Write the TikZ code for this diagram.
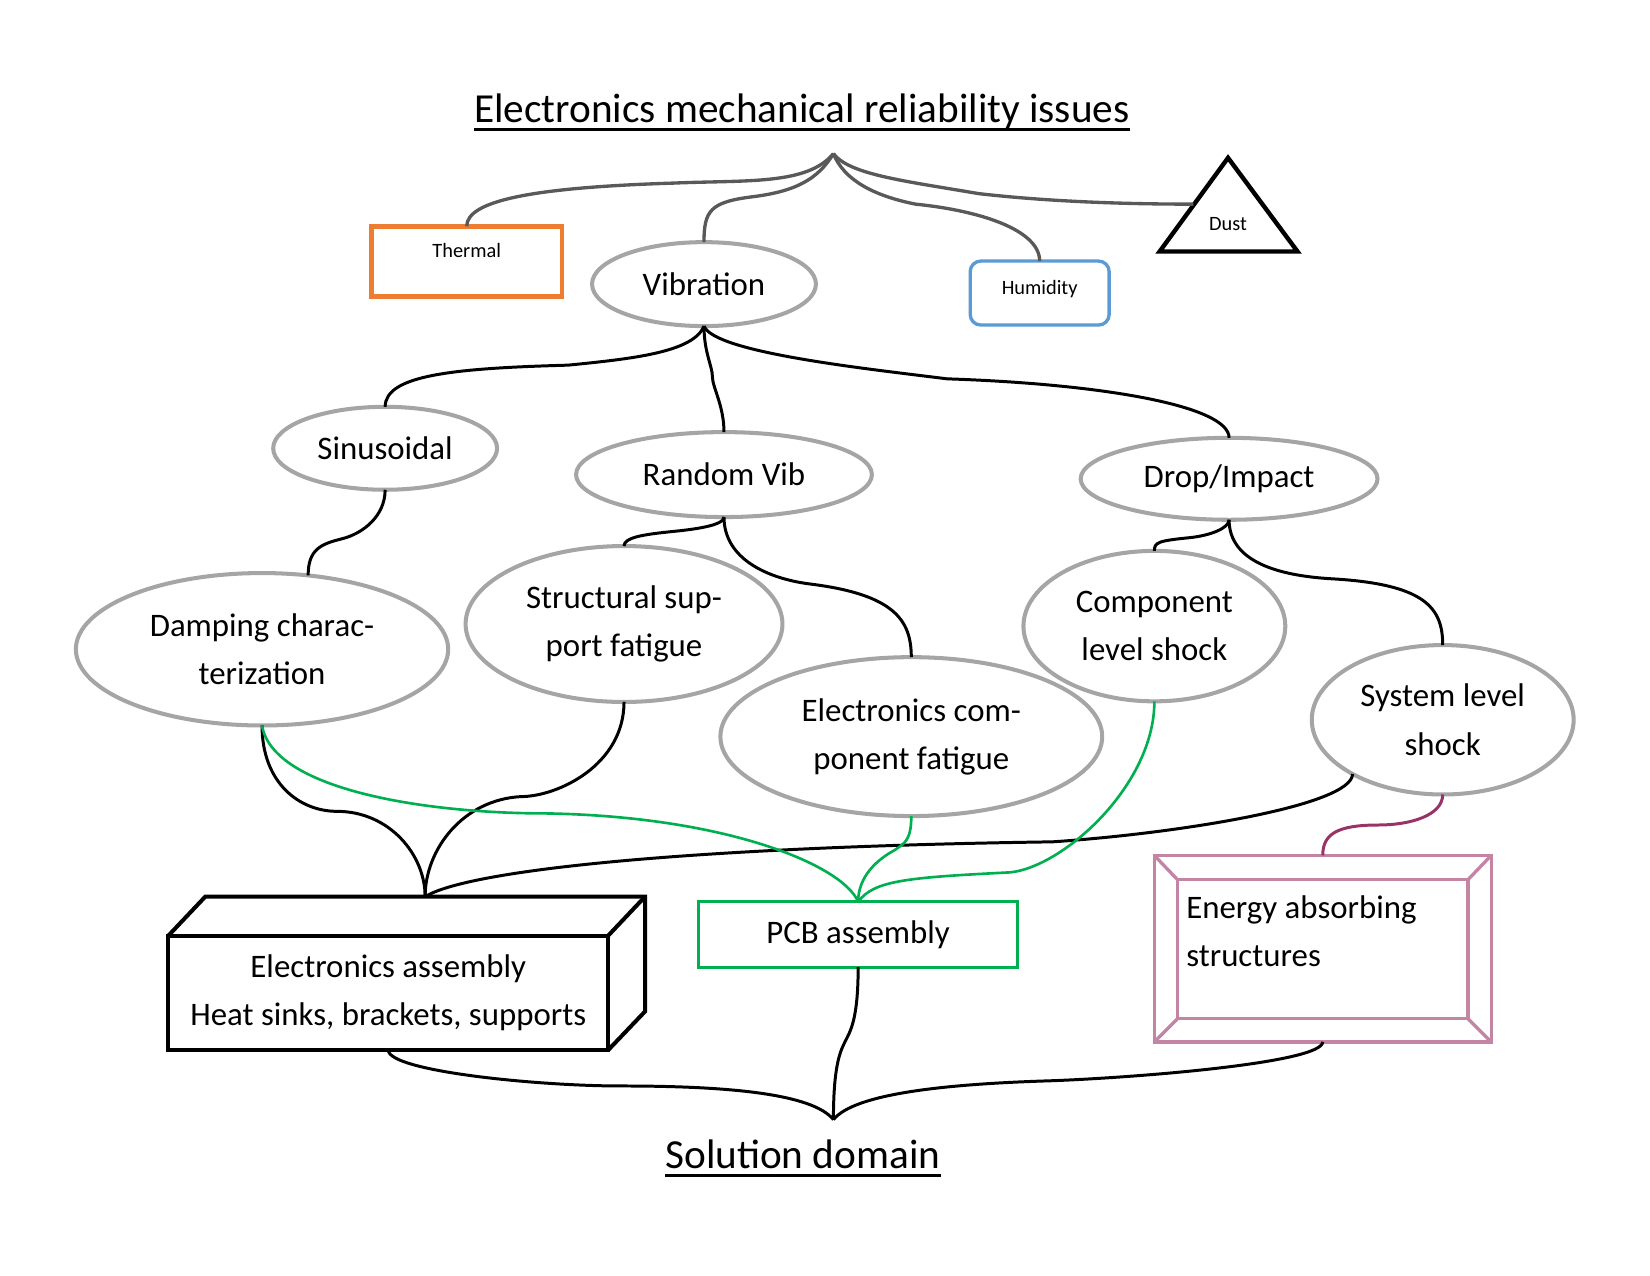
\documentclass[tikz,border=0pt]{standalone}
\usepackage{fontspec}
\setmainfont{Carlito}
\usetikzlibrary{positioning, shapes.geometric}

\definecolor{issue_orange}{HTML}{ED7D31}
\definecolor{issue_blue}{HTML}{5B9BD5}
\definecolor{oval_gray}{HTML}{A5A5A5}
\definecolor{link_gray}{HTML}{595959}
\definecolor{pcb_green}{HTML}{00B050}
\definecolor{shock_maroon}{HTML}{993366}
\definecolor{bevel_pink}{HTML}{C484A4}

\tikzset{
    oval_node/.style={ellipse, draw=oval_gray, line width=2.3pt, inner sep=0pt, outer sep=0pt, text centered, align=center, font=\fontsize{18.7}{27.4}\selectfont},
    thermal_box/.style={rectangle, draw=issue_orange, line width=2.6pt, minimum width=3.81cm, minimum height=1.41cm, outer sep=0pt, text height=8pt, text depth=12.8pt, font=\fontsize{11.6}{14}\selectfont},
    humidity_box/.style={rectangle, rounded corners=6pt, draw=issue_blue, line width=1.9pt, minimum width=2.78cm, minimum height=1.28cm, outer sep=0pt, text height=8pt, text depth=6.8pt, font=\fontsize{11.6}{14}\selectfont},
    small_text/.style={inner sep=0pt, font=\fontsize{11.6}{14}\selectfont},
    dust_tri/.style={draw=black, line width=2.5pt, line join=miter},
    ea_box/.style={rectangle, draw=black, line width=2.3pt, minimum width=8.80cm, minimum height=2.29cm, outer sep=0pt, text centered, align=center, font=\fontsize{18.7}{26.9}\selectfont},
    ea_line/.style={draw=black, line width=2.3pt, line join=miter},
    pcb_box/.style={rectangle, draw=pcb_green, line width=1.9pt, minimum width=6.38cm, minimum height=1.31cm, outer sep=0pt, font=\fontsize{18.7}{26.9}\selectfont},
    bevel_box/.style={rectangle, draw=bevel_pink, line width=1.9pt, minimum width=6.74cm, minimum height=3.73cm, outer sep=0pt},
    bevel_line/.style={draw=bevel_pink, line width=1.9pt},
    body_text/.style={inner sep=0pt, align=left, font=\fontsize{18.7}{27.4}\selectfont},
    title_text/.style={inner sep=0pt, font=\fontsize{23.5}{28}\selectfont},
    grey_link/.style={draw=link_gray, line width=1.9pt},
    link/.style={draw=black, line width=1.7pt},
    green_link/.style={draw=pcb_green, line width=1.5pt},
    maroon_link/.style={draw=shock_maroon, line width=1.7pt},
}

\begin{document}
\begin{tikzpicture}[x=0.02105cm, y=-0.02105cm]
    \useasboundingbox (0,0) rectangle (1568,1212);

    %%%%%%%%%%%%%%%%
    % ISSUES LEVEL %
    %%%%%%%%%%%%%%%%
    \node (title) [title_text, anchor=base] at (762,116)
        {Electronics mechanical reliability issues};
    \draw[line width=1.7pt] ([yshift=-4.4pt]title.base west) -- ([yshift=-4.4pt]title.base east);
    \coordinate (issue_hub) at (792,146);

    \node (thermal) [thermal_box] at (443.5,248.5) {Thermal};
    \node (vib) [oval_node, minimum width=4.48cm, minimum height=1.68cm] at (669,270) {Vibration};
    \node (humidity) [humidity_box] at (988,278.5) {Humidity};
    \coordinate (dust_apex) at (1167,150);
    \coordinate (dust_right) at (1233,239);
    \coordinate (dust_left) at (1102,239);
    \coordinate (dust_side) at (1134,194);
    \draw[dust_tri] (dust_apex) -- (dust_right) -- (dust_left) -- cycle;
    \node (dust) [small_text] at (1167,213) {Dust};

    \draw[grey_link] (issue_hub) .. controls +(-25,30) and +(70,-3) .. (640,174)
        .. controls +(-130,4) and +(0,-25) .. (thermal.north);
    \draw[grey_link] (issue_hub) .. controls +(-15,25) and +(40,-5) .. (715,187)
        .. controls +(-40,5) and +(0,-30) .. (vib.north);
    \draw[grey_link] (issue_hub) .. controls +(10,25) and +(-40,-8) .. (870,194)
        .. controls +(60,6) and +(0,-30) .. (humidity.north);
    \draw[grey_link] (issue_hub) .. controls +(15,20) and +(-70,-12) .. (930,184)
        .. controls +(70,8) and +(-60,0) .. (dust_side);

    %%%%%%%%%%%%%%%%%%%
    % VIBRATION TYPES %
    %%%%%%%%%%%%%%%%%%%
    \node (sin) [oval_node, minimum width=4.48cm, minimum height=1.66cm] at (366,426) {Sinusoidal};
    \node (rand) [oval_node, minimum width=5.92cm, minimum height=1.70cm] at (688,451) {Random Vib};
    \node (drop) [oval_node, minimum width=5.94cm, minimum height=1.64cm] at (1168,455) {Drop/Impact};

    \draw[link] (vib.south) .. controls +(-10,25) and +(60,-6) .. (540,347)
        .. controls +(-110,3) and +(0,-30) .. (sin.north);
    \draw[link] (vib.south) .. controls +(0,25) and +(0,-10) .. (677,358)
        .. controls +(0,10) and +(0,-25) .. (rand.north);
    \draw[link] (vib.south) .. controls +(10,25) and +(-80,-10) .. (900,360)
        .. controls +(150,5) and +(0,-30) .. (drop.north);

    %%%%%%%%%%%%%%%%%%
    % FAILURE MODES  %
    %%%%%%%%%%%%%%%%%%
    \node (damp) [oval_node, minimum width=7.45cm, minimum height=3.05cm] at (249,617)
        {Damping charac-\\terization};
    \node (struct) [oval_node, minimum width=6.34cm, minimum height=3.12cm] at (593,593)
        {Structural sup-\\port fatigue};
    \node (elec) [oval_node, minimum width=7.64cm, minimum height=3.18cm] at (866,700)
        {Electronics com-\\ponent fatigue};
    \node (comp) [oval_node, minimum width=5.24cm, minimum height=3.01cm] at (1097,595)
        {Component\\level shock};
    \node (sys) [oval_node, minimum width=5.24cm, minimum height=2.99cm] at (1371,684)
        {System level\\shock};

    \draw[link] (sin.south) .. controls +(0,25) and +(20,-5) .. (325,512)
        .. controls +(-20,5) and +(0,-25) .. (damp.58);
    \draw[link] (rand.south) .. controls +(0,8) and +(20,-2) .. (640,505)
        .. controls +(-30,3) and +(0,-8) .. (struct.north);
    \draw[link] (rand.south) .. controls +(0,40) and +(-40,-5) .. (770,555)
        .. controls +(80,10) and +(0,-35) .. (elec.north);
    \draw[link] (drop.south) .. controls +(0,8) and +(20,-2) .. (1130,511)
        .. controls +(-30,3) and +(0,-8) .. (comp.north);
    \draw[link] (drop.south) .. controls +(0,40) and +(-50,-3) .. (1265,550)
        .. controls +(90,5) and +(0,-35) .. (sys.north);

    %%%%%%%%%%%%%%%%%%%
    % SOLUTION LEVEL  %
    %%%%%%%%%%%%%%%%%%%
    \node (ea) [ea_box] at (369,943.5)
        {Electronics assembly\\Heat sinks, brackets, supports};
    \draw[ea_line] (ea.north west) -- ++(35,-37) -- ++(418,0) -- ++(0,109) -- (ea.south east);
    \draw[ea_line] (ea.north east) -- ++(35,-37);
    \coordinate (ea_top) at ([shift={(35,-37)}]ea.north);

    \node (pcb) [pcb_box] at (815.5,888) {PCB assembly};

    \node (energy) [bevel_box] at (1257,901.5) {};
    \draw[bevel_line] ([shift={(22,23)}]energy.north west) rectangle ([shift={(-22,-22)}]energy.south east);
    \draw[bevel_line] (energy.north west) -- ++(22,23);
    \draw[bevel_line] (energy.north east) -- ++(-22,23);
    \draw[bevel_line] (energy.south west) -- ++(22,-22);
    \draw[bevel_line] (energy.south east) -- ++(-22,-22);
    \node (energy_text) [body_text, anchor=west] at (1127,885)
        {Energy absorbing\\structures};

    \draw[link] (damp.south) .. controls +(0,55) and +(-35,0) .. (320,771)
        .. controls +(50,0) and +(0,-40) .. (ea_top);
    \draw[link] (struct.south) .. controls +(0,60) and +(35,0) .. (495,757)
        .. controls +(-55,3) and +(0,-45) .. (ea_top);
    \draw[link] (sys.211) .. controls +(0,30) and +(120,-8) .. (1000,800)
        .. controls +(-350,5) and +(40,-25) .. (ea_top);

    \draw[green_link] (damp.south) .. controls +(10,60) and +(-120,0) .. (520,773)
        .. controls +(170,3) and +(-15,-35) .. (pcb.north);
    \draw[green_link] (elec.south) .. controls +(0,25) and +(8,-6) .. (850,808)
        .. controls +(-15,8) and +(0,-25) .. (pcb.north);
    \draw[green_link] (comp.south) .. controls +(0,80) and +(50,-5) .. (960,829)
        .. controls +(-100,5) and +(15,-20) .. (pcb.north);

    \draw[maroon_link] (sys.south) .. controls +(0,20) and +(30,0) .. (1310,784)
        .. controls +(-40,0) and +(0,-20) .. (energy.north);

    %%%%%%%%%%%%%%%%%%%
    % SOLUTION DOMAIN %
    %%%%%%%%%%%%%%%%%%%
    \coordinate (solution_hub) at (792,1064);
    \node (solution) [title_text, anchor=base] at (763,1110) {Solution domain};
    \draw[line width=1.7pt] ([yshift=-4.4pt]solution.base west) -- ([yshift=-4.4pt]solution.base east);

    \draw[link] (ea.south) .. controls +(0,20) and +(-80,0) .. (590,1032)
        .. controls +(100,0) and +(-20,-25) .. (solution_hub);
    \draw[link] (pcb.south) .. controls +(0,50) and +(5,-10) .. (803,990)
        .. controls +(-5,10) and +(0,-50) .. (solution_hub);
    \draw[link] (energy.south) .. controls +(0,20) and +(80,-3) .. (1000,1027)
        .. controls +(-100,3) and +(20,-25) .. (solution_hub);
\end{tikzpicture}
\end{document}
